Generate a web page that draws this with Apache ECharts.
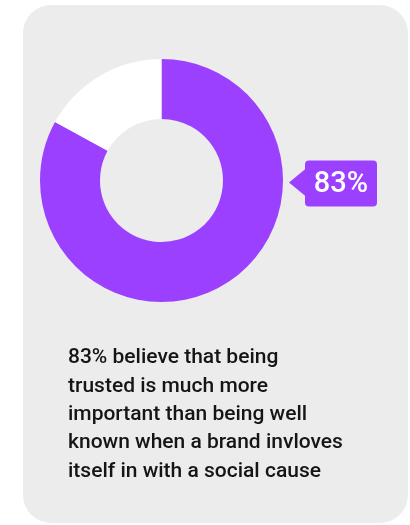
<!DOCTYPE html>
<html>
<head>
<meta charset="utf-8">
<style>
  html, body { margin: 0; padding: 0; background: #ffffff; }
  #chart { width: 410px; height: 525px; }
</style>
<script src="https://cdn.jsdelivr.net/npm/echarts@6/dist/echarts.min.js"></script>
</head>
<body>
<div id="chart"></div>
<script>
// Share of respondents: trusted brand vs. the rest
const categories = ['Trusted matters more', 'Other'];
const values = [83, 17];
const sliceColors = ['#9b40ff', '#ffffff'];
const captionLines = [
  '83% believe that being',
  'trusted is much more',
  'important than being well',
  'known when a brand invloves',
  'itself in with a social cause'
];

const center = [161.5, 180.5];
const outerR = 121.5;
const innerR = 61.5;

const chart = echarts.init(document.getElementById('chart'), null, { renderer: 'canvas' });

const total = values.reduce((a, b) => a + b, 0);
const pct = Math.round(values[0] / total * 100) + '%';

// Callout box to the right of the donut
const boxX = center[0] + outerR + 22;
const boxY = center[1] - 20;
const boxW = 72, boxH = 46, arrow = 16;

chart.setOption({
  animation: false,
  graphic: [
    {
      type: 'rect', z: -10,
      shape: { x: 23, y: 5, width: 385, height: 518, r: 28 },
      style: { fill: '#ececec' }
    },
    {
      type: 'group', z: 10,
      children: [
        {
          type: 'rect',
          shape: { x: boxX, y: boxY, width: boxW, height: boxH, r: 4 },
          style: { fill: sliceColors[0] }
        },
        {
          type: 'polygon',
          shape: { points: [[boxX + 1, boxY + 8], [boxX - arrow, boxY + 22], [boxX + 1, boxY + 36]] },
          style: { fill: sliceColors[0] }
        },
        {
          type: 'text',
          style: {
            x: boxX + boxW / 2, y: boxY + boxH / 2 + 1,
            text: pct, fill: '#ffffff',
            font: '500 29px Roboto', align: 'center', verticalAlign: 'middle'
          }
        }
      ]
    },
    {
      type: 'text', z: 10,
      style: {
        x: 68, y: 344,
        text: captionLines.join('\n'),
        fill: '#151515',
        font: '500 21px Roboto',
        lineHeight: 28.3,
        verticalAlign: 'top'
      }
    }
  ],
  series: [{
    type: 'pie',
    center: center,
    radius: [innerR, outerR],
    startAngle: 90,
    clockwise: true,
    silent: true,
    label: { show: false },
    labelLine: { show: false },
    emphasis: { disabled: true },
    data: categories.map((name, i) => ({
      name, value: values[i], itemStyle: { color: sliceColors[i] }
    }))
  }]
});
</script>
</body>
</html>
